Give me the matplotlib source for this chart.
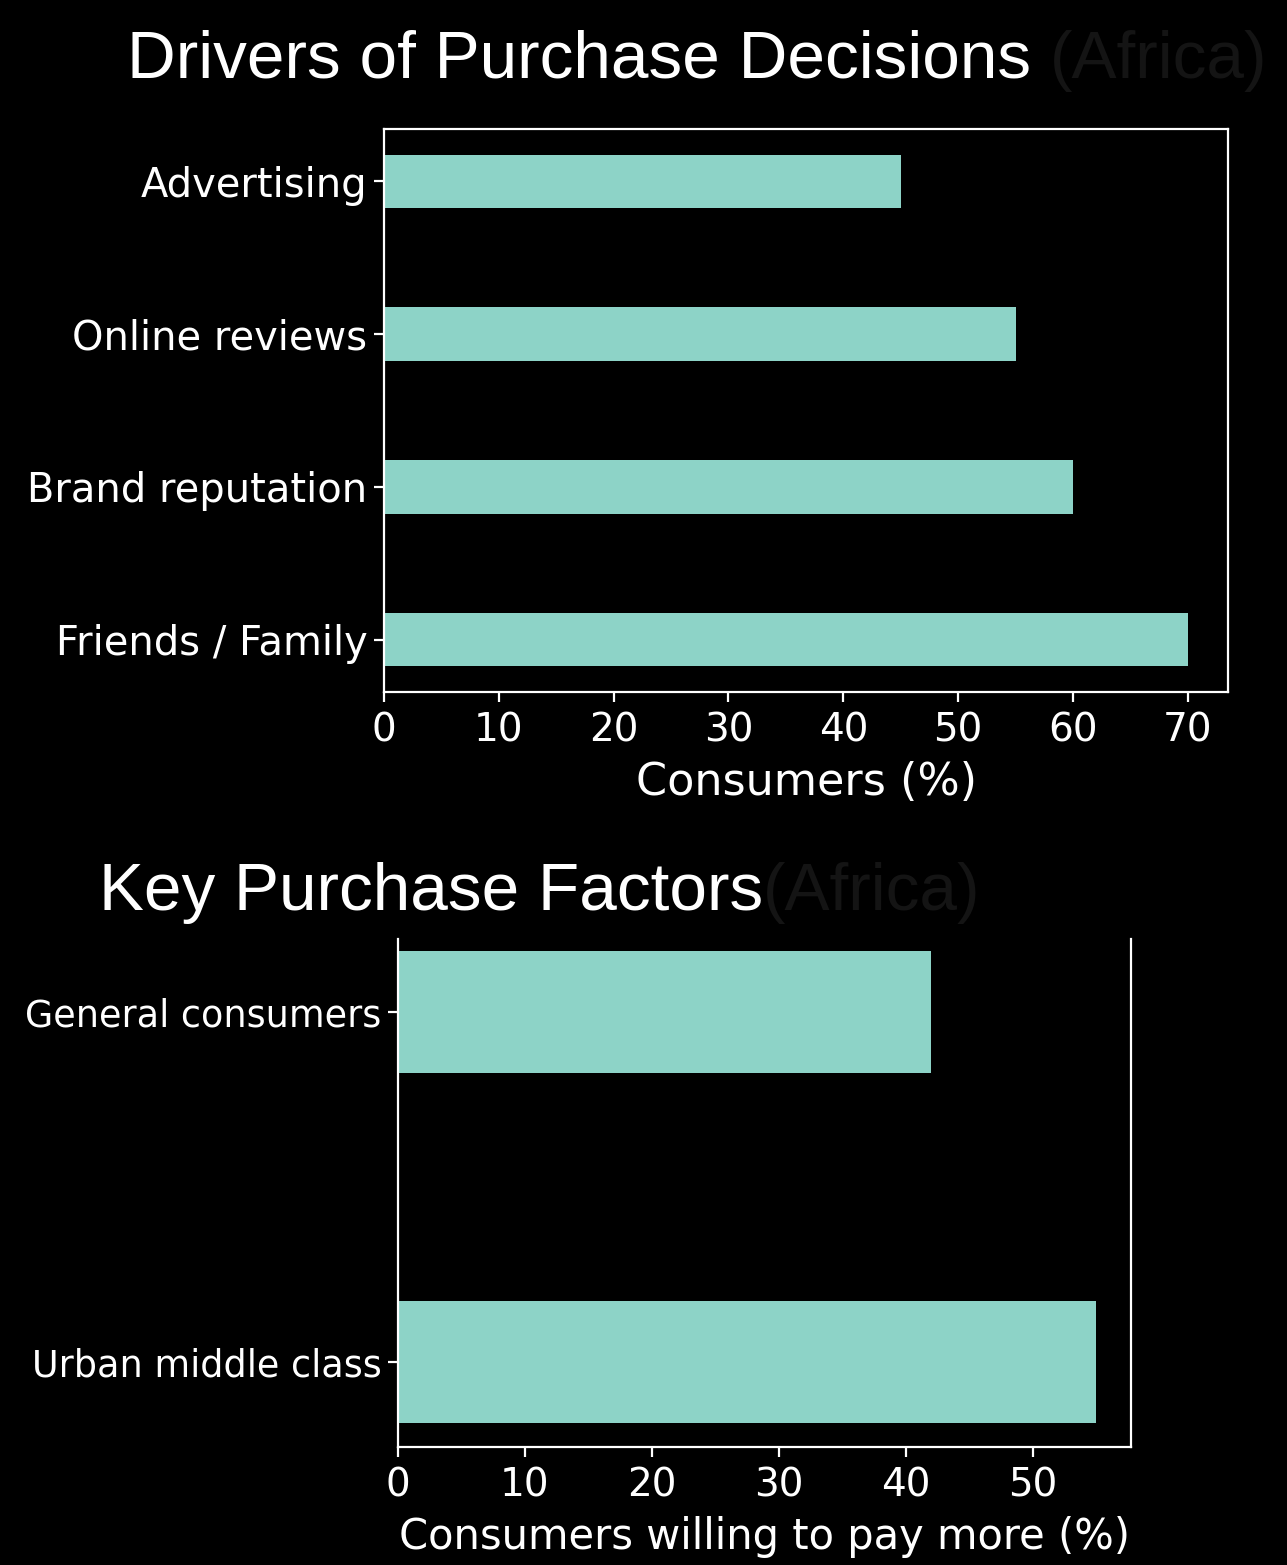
import matplotlib
matplotlib.use("Agg")
import matplotlib.pyplot as plt

# data
drivers = ["Advertising", "Online reviews", "Brand reputation", "Friends / Family"]
drivers_pct = [45, 55, 60, 70]

segments = ["General consumers", "Urban middle class"]
segments_pct = [42, 55]

bar_color = "#8dd3c7"
dim = "#141414"

plt.style.use("dark_background")
DPI = 200
fig = plt.figure(figsize=(6.435, 7.825), dpi=DPI)

W, H = 1287, 1565

def box(l, t, r, b):
    return [l / W, 1 - b / H, (r - l) / W, (b - t) / H]

# top panel
ax1 = fig.add_axes(box(384, 129, 1228, 692))
ax1.barh(drivers, drivers_pct, height=0.35, color=bar_color)
ax1.invert_yaxis()
ax1.set_xticks(range(0, 71, 10))
ax1.set_xlabel("Consumers (%)", fontsize=16, labelpad=4)
ax1.tick_params(axis="x", labelsize=14)
ax1.tick_params(axis="y", labelsize=14.4, pad=2.5)

# bottom panel
ax2 = fig.add_axes(box(398, 939, 1131, 1447))
ax2.barh(segments, segments_pct, height=0.35, color=bar_color)
ax2.set_ylim(1.2425, -0.209)
ax2.spines["top"].set_visible(False)
ax2.set_xlabel("Consumers willing to pay more (%)", fontsize=15, labelpad=4)
ax2.tick_params(axis="x", labelsize=14)
ax2.tick_params(axis="y", labelsize=13.15, pad=2.5)

# titles: white part, then a dim "(Africa)" right after it
TSIZE = 24.3
tfont = dict(family=["Liberation Sans", "DejaVu Sans"], fontsize=TSIZE, va="baseline", ha="left")
space = 0.278 * TSIZE * DPI / 72 / W

def title(x, y, main, gap):
    t = fig.text(x, y, main, color="white", **tfont)
    fig.canvas.draw()
    bb = t.get_window_extent().transformed(fig.transFigure.inverted())
    fig.text(bb.x1 + gap, y, "(Africa)", color=dim, **tfont)

title(127 / W, 1 - 78 / H, "Drivers of Purchase Decisions", space)
title(99 / W, 1 - 910 / H, "Key Purchase Factors", 0)

fig.savefig("out.png", dpi=DPI, facecolor="black")
